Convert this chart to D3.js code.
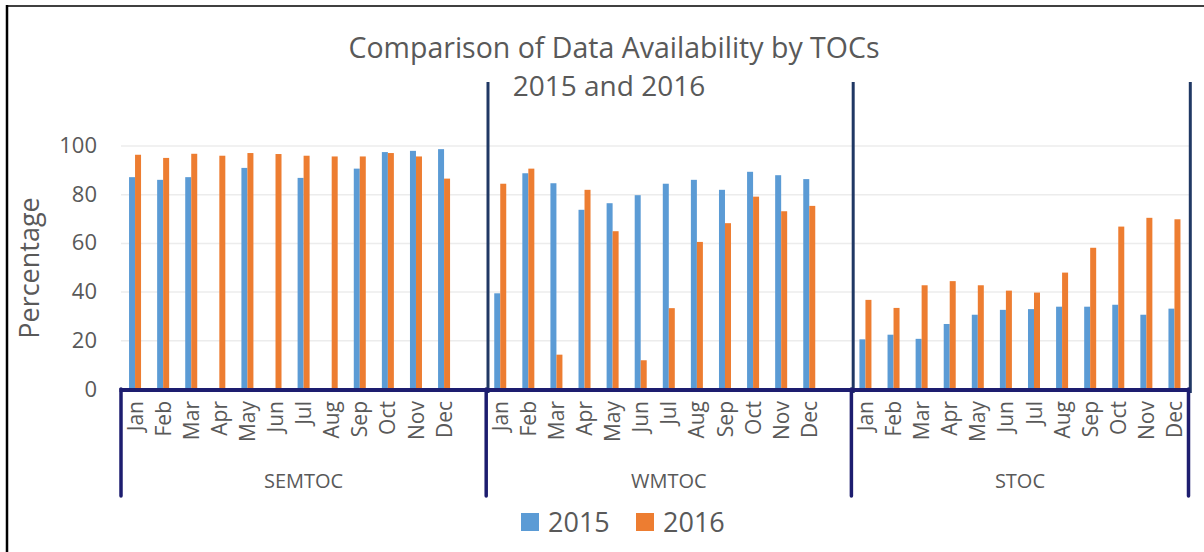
<!DOCTYPE html>
<html>
<head>
<meta charset="utf-8">
<script src="https://cdn.jsdelivr.net/npm/d3@7"></script>
<style>
    body { margin: 0; background: #fff; }
    svg { display: block; font-family: "Open Sans", sans-serif; }
</style>
</head>
<body>
<svg id="chart" width="1204" height="552"></svg>
<script>
var months = ["Jan", "Feb", "Mar", "Apr", "May", "Jun", "Jul", "Aug", "Sep", "Oct", "Nov", "Dec"];
var groups = ["SEMTOC", "WMTOC", "STOC"];
var seriesNames = ["2015", "2016"];
var yTicks = [0, 20, 40, 60, 80, 100];

var semtoc2015 = [87.0, 85.9, 87.0, null, 90.8, null, 86.7, null, 90.5, 97.3, 97.8, 98.5];
var semtoc2016 = [96.2, 94.9, 96.6, 95.8, 96.9, 96.5, 95.8, 95.5, 95.5, 96.9, 95.5, 86.4];
var wmtoc2015 = [39.3, 88.6, 84.5, 73.6, 76.3, 79.6, 84.3, 85.9, 81.8, 89.2, 87.8, 86.2];
var wmtoc2016 = [84.3, 90.5, 14.1, 81.8, 64.8, 11.8, 33.2, 60.4, 68.1, 79.0, 73.0, 75.2];
var stoc2015 = [20.4, 22.3, 20.6, 26.7, 30.5, 32.5, 32.8, 33.8, 33.8, 34.6, 30.5, 33.0];
var stoc2016 = [36.6, 33.3, 42.6, 44.3, 42.6, 40.4, 39.6, 47.8, 58.0, 66.7, 70.3, 69.7];

var seriesByGroup = {
    SEMTOC: [semtoc2015, semtoc2016],
    WMTOC: [wmtoc2015, wmtoc2016],
    STOC: [stoc2015, stoc2016]
};
var colors = {"2015": "#5B9BD5", "2016": "#ED7D31"};
var textColor = "#595959",
    navy = "#1d1d6f";

// categories: each group's months, with an empty slot between groups (as in the sheet)
var keys = [], rows = [];
groups.forEach(function (g, gi) {
    months.forEach(function (m, mi) {
        var key = g + "|" + m;
        keys.push(key);
        seriesNames.forEach(function (s, si) {
            var v = seriesByGroup[g][si][mi];
            if (v !== null) rows.push({key: key, series: s, value: v});
        });
    });
    if (gi < groups.length - 1) keys.push(g + "|gap");
});

var svg = d3.select("#chart");

var x = d3.scaleBand().domain(keys).range([121, 1188.5]).padding(0),
    xs = d3.scaleBand().domain(seriesNames).range([0, x.bandwidth()]).paddingInner(0).paddingOuter(1.34),
    y = d3.scaleLinear().domain([0, 100]).range([389, 145.5]);

// outer frame (left and top only are visible)
svg.append("line").attr("x1", 7).attr("x2", 7).attr("y1", 5).attr("y2", 552)
    .attr("stroke", "#000").attr("stroke-width", 2.5);
svg.append("line").attr("x1", 6).attr("x2", 1204).attr("y1", 6).attr("y2", 6)
    .attr("stroke", "#000").attr("stroke-width", 1.5);

// Title
svg.append("text").attr("x", 614).attr("y", 58).attr("text-anchor", "middle")
    .attr("font-size", 28.5).attr("fill", textColor)
    .text("Comparison of Data Availability by TOCs");
svg.append("text").attr("x", 609).attr("y", 96).attr("text-anchor", "middle")
    .attr("font-size", 28).attr("fill", textColor)
    .text("2015 and 2016");

// Gridlines
svg.append("g")
    .attr("class", "grid")
    .attr("transform", "translate(121,0)")
    .call(d3.axisLeft(y).tickValues(yTicks.slice(1)).tickSize(-(1190 - 121)).tickFormat(""))
    .call(function (g) { g.select(".domain").remove(); })
    .selectAll("line")
    .attr("stroke", "#ececec").attr("stroke-width", 1.5);

// Y axis labels
svg.append("g")
    .attr("class", "axis axis--y")
    .attr("transform", "translate(121,0)")
    .call(d3.axisLeft(y).tickValues(yTicks).tickSize(0).tickPadding(24))
    .call(function (g) { g.select(".domain").remove(); })
    .selectAll("text")
    .attr("font-family", "Open Sans")
    .attr("font-size", 22)
    .attr("fill", textColor);

svg.append("text")
    .attr("transform", "translate(39,268) rotate(-90)")
    .attr("text-anchor", "middle")
    .attr("font-size", 27)
    .attr("fill", textColor)
    .text("Percentage");

// Bars
svg.append("g").selectAll("rect")
    .data(rows)
    .enter()
    .append("rect")
    .attr("x", function (d) { return x(d.key) + xs(d.series); })
    .attr("y", function (d) { return y(d.value); })
    .attr("width", xs.bandwidth())
    .attr("height", function (d) { return y(0) - y(d.value); })
    .attr("fill", function (d) { return colors[d.series]; });

// Upper divider lines between groups
var bounds = groups.map(function (g) { return x(g + "|Jan"); });
bounds.push(x.range()[1]);
svg.append("g").selectAll("line")
    .data(bounds.slice(1))
    .enter()
    .append("line")
    .attr("x1", function (d) { return d + 1.8; })
    .attr("x2", function (d) { return d + 1.8; })
    .attr("y1", 82).attr("y2", 393)
    .attr("stroke", "#203864").attr("stroke-width", 3);

// Month labels
svg.append("g")
    .attr("class", "axis axis--x")
    .attr("transform", "translate(0,389)")
    .call(d3.axisBottom(x).tickSize(0).tickFormat(function (k) {
        var m = k.split("|")[1];
        return m === "gap" ? "" : m;
    }))
    .call(function (g) { g.select(".domain").remove(); })
    .selectAll("text")
    .attr("transform", "rotate(-90)")
    .attr("text-anchor", "end")
    .attr("x", -12)
    .attr("y", 0)
    .attr("dy", "0.36em")
    .attr("font-family", "Open Sans")
    .attr("font-size", 21)
    .attr("fill", textColor);

// Category axis line and group frame
svg.append("line")
    .attr("x1", 119.5).attr("x2", x.range()[1] + 1)
    .attr("y1", 390).attr("y2", 390)
    .attr("stroke", navy).attr("stroke-width", 4);
svg.append("g").selectAll("line")
    .data(bounds)
    .enter()
    .append("line")
    .attr("x1", function (d) { return d; })
    .attr("x2", function (d) { return d; })
    .attr("y1", 389).attr("y2", 496)
    .attr("stroke", navy).attr("stroke-width", 3.5)
    .attr("stroke-linecap", "round");

// Group labels
svg.append("g").selectAll("text")
    .data(groups)
    .enter()
    .append("text")
    .attr("x", function (d, i) { return (bounds[i] + bounds[i + 1]) / 2; })
    .attr("y", 488)
    .attr("text-anchor", "middle")
    .attr("font-size", 20)
    .attr("fill", textColor)
    .text(function (d) { return d; });

// Legend
var legend = svg.append("g").selectAll("g")
    .data(seriesNames)
    .enter()
    .append("g")
    .attr("transform", function (d, i) { return "translate(" + (521 + i * 115) + ",0)"; });
legend.append("rect")
    .attr("x", 0).attr("y", 513)
    .attr("width", 18).attr("height", 18)
    .attr("fill", function (d) { return colors[d]; });
legend.append("text")
    .attr("x", 27).attr("y", 532)
    .attr("font-size", 27)
    .attr("fill", textColor)
    .text(function (d) { return d; });
</script>
</body>
</html>
